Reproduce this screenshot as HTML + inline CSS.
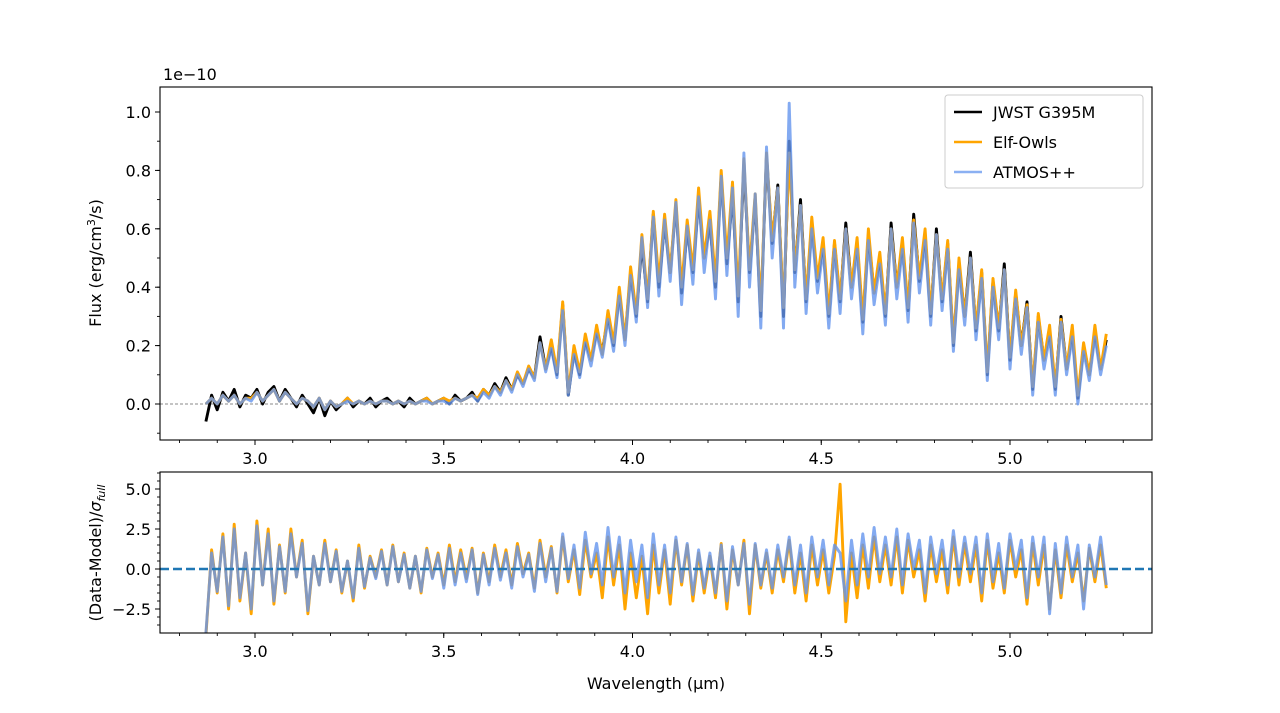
<!DOCTYPE html>
<html><head><meta charset="utf-8">
<style>
body{margin:0;background:#fff;}
svg{display:block;font-family:"DejaVu Sans","Liberation Sans",sans-serif;}
</style></head>
<body>
<svg id="chart" width="1280" height="713" viewBox="0 0 1280 713" xmlns="http://www.w3.org/2000/svg">
<defs>
<clipPath id="clipTop"><rect x="160" y="87" width="992" height="353"/></clipPath>
<clipPath id="clipBot"><rect x="160" y="472" width="992" height="161"/></clipPath>
</defs>
<g id="topPanel"></g>
<g id="botPanel"></g>
<text x="163" y="80" font-size="16">1e−10</text>
<text transform="translate(101,263) rotate(-90)" text-anchor="middle" font-size="16">Flux (erg/cm<tspan dy="-6" font-size="11">3</tspan><tspan dy="6">/s)</tspan></text>
<text transform="translate(101,553) rotate(-90)" text-anchor="middle" font-size="16">(Data-Model)/<tspan font-style="italic">σ</tspan><tspan dy="4" font-size="11" font-style="italic">full</tspan></text>
<text x="656" y="689" text-anchor="middle" font-size="16">Wavelength (µm)</text>
<g>
<rect x="945" y="95" width="198" height="93" rx="3" fill="#fff" fill-opacity="0.8" stroke="#ccc"/>
<line x1="954" y1="112" x2="982" y2="112" stroke="#000" stroke-width="2.5"/>
<text x="993" y="118" font-size="16">JWST G395M</text>
<line x1="954" y1="142" x2="982" y2="142" stroke="orange" stroke-width="2.5"/>
<text x="993" y="148" font-size="16">Elf-Owls</text>
<line x1="954" y1="172" x2="982" y2="172" stroke="#6495ed" stroke-opacity="0.75" stroke-width="2.5"/>
<text x="993" y="178" font-size="16">ATMOS++</text>
</g>
</svg>
<script>
const wlStart = 2.87, wlStep = 0.015;
const fluxData = [
-0.06,0.03,-0.02,0.04,0.01,0.05,-0.01,0.03,0.02,0.05,
0.0,0.04,0.06,0.01,0.05,0.02,-0.01,0.03,0.0,-0.03,
0.02,-0.04,0.01,-0.02,0.0,0.02,-0.01,0.01,0.0,0.02,
-0.01,0.01,0.02,0.0,0.01,-0.01,0.02,0.0,0.01,0.02,
0.0,0.01,0.02,0.0,0.03,0.01,0.02,0.04,0.01,0.05,
0.03,0.07,0.04,0.09,0.05,0.10,0.07,0.12,0.09,0.23,
0.12,0.20,0.10,0.34,0.03,0.18,0.10,0.22,0.15,0.25,
0.18,0.30,0.20,0.38,0.22,0.45,0.30,0.55,0.35,0.65,
0.40,0.62,0.45,0.68,0.38,0.60,0.45,0.70,0.50,0.62,
0.40,0.78,0.48,0.72,0.35,0.82,0.45,0.70,0.30,0.85,
0.55,0.75,0.30,0.90,0.45,0.70,0.35,0.62,0.42,0.55,
0.30,0.55,0.35,0.62,0.40,0.55,0.28,0.58,0.38,0.50,
0.30,0.62,0.40,0.55,0.32,0.65,0.42,0.58,0.30,0.60,
0.35,0.55,0.20,0.48,0.30,0.52,0.25,0.45,0.10,0.42,
0.25,0.48,0.15,0.38,0.20,0.35,0.05,0.30,0.15,0.25,
0.05,0.30,0.12,0.25,0.02,0.20,0.10,0.25,0.12,0.22];
const fluxElf = [
0.0,0.02,0.0,0.03,0.01,0.03,0.0,0.02,0.02,0.04,
0.01,0.03,0.05,0.01,0.04,0.02,0.0,0.02,0.01,-0.01,
0.02,-0.02,0.01,-0.01,0.0,0.02,0.0,0.01,0.0,0.01,
0.0,0.01,0.01,0.0,0.01,0.0,0.01,0.0,0.01,0.02,
0.0,0.01,0.02,0.01,0.02,0.01,0.02,0.03,0.02,0.05,
0.03,0.06,0.04,0.08,0.05,0.11,0.07,0.13,0.09,0.21,
0.12,0.22,0.11,0.35,0.04,0.20,0.11,0.24,0.15,0.27,
0.17,0.32,0.21,0.40,0.22,0.47,0.31,0.58,0.36,0.66,
0.42,0.65,0.45,0.70,0.40,0.63,0.46,0.74,0.50,0.66,
0.42,0.80,0.50,0.76,0.37,0.84,0.46,0.72,0.32,0.86,
0.56,0.74,0.33,0.86,0.46,0.68,0.36,0.64,0.43,0.57,
0.31,0.56,0.36,0.60,0.40,0.57,0.29,0.60,0.38,0.52,
0.31,0.60,0.40,0.57,0.33,0.63,0.43,0.60,0.31,0.58,
0.36,0.56,0.21,0.50,0.30,0.50,0.26,0.46,0.11,0.43,
0.26,0.46,0.16,0.39,0.20,0.34,0.06,0.31,0.15,0.27,
0.06,0.29,0.12,0.27,0.03,0.21,0.10,0.27,0.12,0.24];
const fluxAtmos = [
0.0,0.02,0.0,0.03,0.01,0.03,0.0,0.02,0.01,0.04,
0.01,0.03,0.05,0.01,0.04,0.02,0.0,0.02,0.01,-0.01,
0.02,-0.02,0.01,-0.01,0.0,0.01,0.0,0.01,0.0,0.01,
0.0,0.01,0.01,0.0,0.01,0.0,0.01,0.0,0.01,0.01,
0.0,0.01,0.01,0.0,0.02,0.01,0.02,0.03,0.01,0.04,
0.02,0.06,0.03,0.08,0.04,0.10,0.06,0.12,0.08,0.21,
0.11,0.19,0.09,0.32,0.03,0.17,0.09,0.21,0.13,0.24,
0.16,0.29,0.18,0.37,0.20,0.44,0.28,0.57,0.33,0.64,
0.37,0.63,0.42,0.69,0.34,0.61,0.41,0.71,0.45,0.63,
0.36,0.78,0.44,0.74,0.30,0.86,0.40,0.72,0.26,0.88,
0.50,0.74,0.26,1.03,0.40,0.68,0.31,0.60,0.38,0.53,
0.26,0.53,0.31,0.60,0.36,0.53,0.24,0.56,0.34,0.48,
0.27,0.60,0.36,0.53,0.28,0.62,0.38,0.56,0.27,0.58,
0.32,0.53,0.18,0.46,0.27,0.50,0.22,0.43,0.08,0.40,
0.22,0.46,0.12,0.36,0.17,0.33,0.03,0.28,0.12,0.23,
0.03,0.28,0.10,0.23,0.0,0.18,0.08,0.23,0.10,0.20];
const residElf = [
-4.2,1.2,-1.5,2.2,-2.5,2.8,-2.0,1.0,-2.8,3.0,
-1.0,2.5,-2.2,1.5,-1.5,2.5,-0.5,1.8,-2.8,0.8,
-1.0,1.8,-0.8,1.2,-1.5,0.5,-2.0,1.5,-1.2,0.8,
-0.5,1.2,-1.0,1.5,-0.8,1.0,-1.2,0.8,-1.5,1.3,
-0.5,1.0,-1.0,1.5,-0.8,1.2,-0.6,1.3,-1.5,1.0,
-0.8,1.5,-0.5,1.2,-1.0,1.6,-0.3,1.0,-1.2,1.8,
-0.5,1.4,-1.5,2.0,-0.8,1.2,-1.6,1.8,-0.5,1.0,
-1.8,2.0,-1.0,1.5,-2.5,1.0,-1.8,0.8,-2.8,1.5,
-1.5,1.2,-2.2,1.8,-1.0,1.5,-2.0,1.0,-1.5,0.8,
-1.8,1.6,-2.5,1.2,-1.0,1.8,-2.8,1.5,-1.2,1.0,
-1.5,1.2,-0.8,1.8,-1.5,1.0,-2.0,1.5,-1.0,1.2,
-1.5,0.8,5.3,-3.3,1.0,-1.8,1.5,-1.2,2.0,-0.8,
1.5,-1.0,2.0,-1.5,1.8,-0.5,1.2,-2.0,1.5,-0.8,
1.2,-1.5,2.0,-1.0,1.6,-0.8,1.5,-2.0,1.8,-1.2,
1.0,-1.5,1.8,-0.5,1.2,-2.2,1.6,-1.0,1.5,-2.5,
1.2,-1.8,1.5,-0.8,1.0,-2.0,1.3,-0.8,1.5,-1.2];
const residAtmos = [
-4.0,1.0,-1.4,2.0,-2.3,2.5,-1.8,1.0,-2.5,2.7,
-1.0,2.2,-2.0,1.4,-1.4,2.2,-0.5,1.6,-2.6,0.8,
-1.0,1.6,-0.8,1.1,-1.4,0.5,-1.8,1.3,-1.1,0.7,
-0.6,1.1,-1.0,1.4,-0.8,0.9,-1.2,0.8,-1.4,1.2,
-0.6,0.9,-1.2,1.3,-1.0,1.0,-0.8,1.2,-1.6,0.9,
-1.0,1.3,-0.7,1.0,-1.2,1.4,-0.5,0.9,-1.4,1.6,
-0.8,1.3,-1.4,2.2,-0.6,1.5,-1.2,2.3,-0.3,1.6,
-1.0,2.6,-0.5,2.0,-1.5,1.8,-0.8,1.5,-1.8,2.2,
-1.0,1.5,-1.5,2.0,-0.8,1.6,-1.6,1.2,-1.2,1.0,
-1.5,1.5,-2.0,1.4,-1.0,1.6,-2.2,1.6,-1.0,1.2,
-1.2,1.5,-0.5,2.0,-1.0,1.5,-1.5,2.0,-0.5,1.8,
-1.0,1.5,1.0,-2.0,1.8,-1.0,2.2,-0.5,2.6,-0.3,
2.0,-0.5,2.5,-1.0,2.2,0.0,1.8,-1.5,2.0,-0.3,
1.8,-1.0,2.4,-0.5,2.0,-0.3,2.0,-1.5,2.2,-0.8,
1.6,-1.2,2.2,0.0,1.8,-1.8,2.0,-0.5,2.0,-2.8,
1.6,-1.5,2.0,-0.5,1.5,-2.5,1.5,-0.5,2.0,-1.0];
const xTicks = [3.0,3.5,4.0,4.5,5.0];
const xTickLabels = ["3.0","3.5","4.0","4.5","5.0"];
const yTopTicks = [0.0,0.2,0.4,0.6,0.8,1.0];
const yTopLabels = ["0.0","0.2","0.4","0.6","0.8","1.0"];
const yBotTicks = [-2.5,0.0,2.5,5.0];
const yBotLabels = ["−2.5","0.0","2.5","5.0"];

const NS="http://www.w3.org/2000/svg";
const L=160,R=1152,T1=87,B1=440,T2=472,B2=633;
const xs = w => 255 + (w-3.0)*377.5;
const yTop = v => 404 - v*292;
const yBot = v => 569 - v*16;
function mk(tag, attrs, parent){const e=document.createElementNS(NS,tag);for(const k in attrs)e.setAttribute(k,attrs[k]);parent.appendChild(e);return e;}
const topG=document.getElementById('topPanel'), botG=document.getElementById('botPanel');

function lineStr(arr, ys){return arr.map((v,i)=>xs(wlStart+wlStep*i).toFixed(1)+','+ys(v).toFixed(1)).join(' ');}

let z=mk('line',{x1:L,x2:R,y1:yTop(0),y2:yTop(0),stroke:'#888','stroke-width':1,'stroke-dasharray':'3,2'},topG);



const gT=mk('g',{'clip-path':'url(#clipTop)'},topG);
[[fluxData,'#000',1,'jwst-flux-line'],[fluxElf,'orange',1,'elf-owls-flux-line'],[fluxAtmos,'#6495ed',0.8,'atmos-flux-line']].forEach(s=>{
  const p=mk('polyline',{points:lineStr(s[0],yTop),fill:'none',stroke:s[1],'stroke-opacity':s[2],'stroke-width':2.9,'stroke-linejoin':'round'},gT);
  
  
});
const gB=mk('g',{'clip-path':'url(#clipBot)'},botG);
[[residElf,'orange',1,'elf-owls-residual-line'],[residAtmos,'#6495ed',0.8,'atmos-residual-line']].forEach(s=>{
  const p=mk('polyline',{points:lineStr(s[0],yBot),fill:'none',stroke:s[1],'stroke-opacity':s[2],'stroke-width':2.9,'stroke-linejoin':'round'},gB);
  
  
});
let z2=mk('line',{x1:L,x2:R,y1:yBot(0),y2:yBot(0),stroke:'#1f77b4','stroke-width':2.5,'stroke-dasharray':'9,4'},botG);



[[T1,B1,topG],[T2,B2,botG]].forEach(f=>{
  const r=mk('rect',{x:L,y:f[0],width:R-L,height:f[1]-f[0],fill:'none',stroke:'#000','stroke-width':1.1},f[2]);
  
  
});
for(let k=0;k<=26;k++){const w=2.8+0.1*k;const x=xs(w);if(x<L||x>R)continue;
  [B1,B2].forEach(b=>mk('line',{x1:x,x2:x,y1:b,y2:b+3,stroke:'#000','stroke-width':0.9},topG));}
xTicks.forEach((w,i)=>{[B1,B2].forEach(b=>mk('line',{x1:xs(w),x2:xs(w),y1:b,y2:b+5,stroke:'#000','stroke-width':1},topG));
  [B1,B2].forEach(b=>{const t=mk('text',{x:xs(w),y:b+24,'text-anchor':'middle','font-size':16},topG);t.textContent=xTickLabels[i];
  
  });});
for(let v=-0.1;v<=1.05;v+=0.1){mk('line',{x1:L-3,x2:L,y1:yTop(v),y2:yTop(v),stroke:'#000','stroke-width':0.9},topG);}
yTopTicks.forEach((v,i)=>{mk('line',{x1:L-5,x2:L,y1:yTop(v),y2:yTop(v),stroke:'#000'},topG);
  const t=mk('text',{x:L-9,y:yTop(v)+6,'text-anchor':'end','font-size':16},topG);t.textContent=yTopLabels[i];
  
  });
for(let v=-3.5;v<=6;v+=0.5){mk('line',{x1:L-3,x2:L,y1:yBot(v),y2:yBot(v),stroke:'#000','stroke-width':0.9},botG);}
yBotTicks.forEach((v,i)=>{mk('line',{x1:L-5,x2:L,y1:yBot(v),y2:yBot(v),stroke:'#000'},botG);
  const t=mk('text',{x:L-9,y:yBot(v)+6,'text-anchor':'end','font-size':16},botG);t.textContent=yBotLabels[i];
  
  });
</script>
</body></html>
